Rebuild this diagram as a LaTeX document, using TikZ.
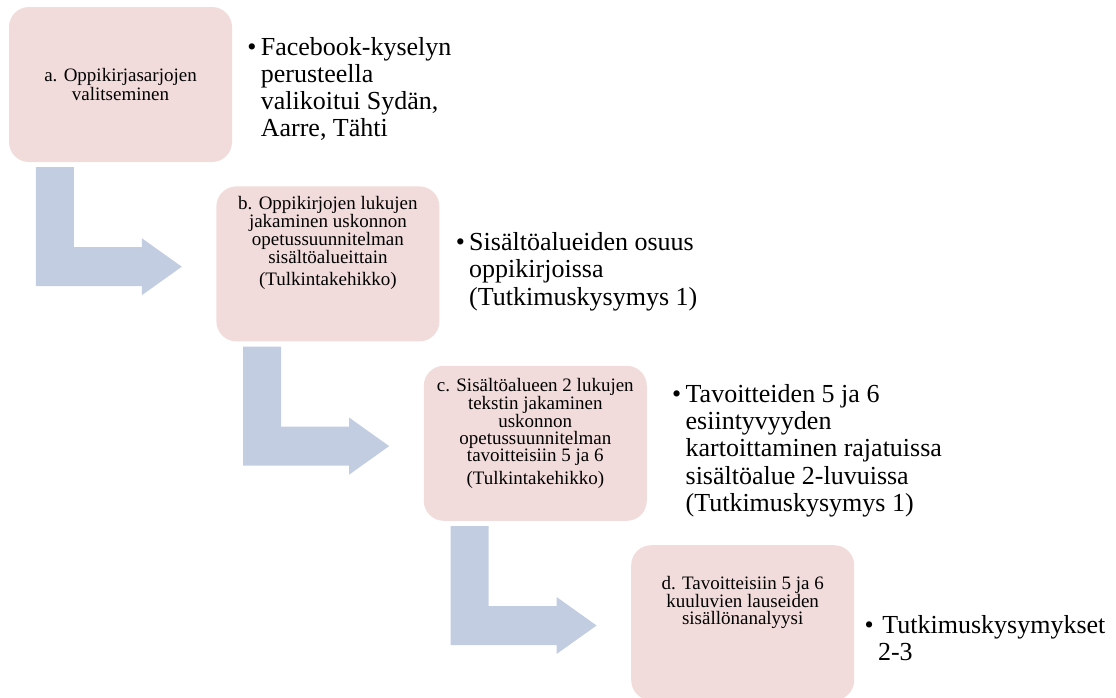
\documentclass[tikz,border=0pt]{standalone}
\usepackage{fontspec}
\setmainfont{Liberation Serif}
\usetikzlibrary{positioning}
\definecolor{vaihepuna}{HTML}{F2DCDB}
\definecolor{nuolisini}{HTML}{C3CDE2}
\tikzset{
    vaihe/.style       = {fill=vaihepuna, rounded corners=20pt, minimum width=223pt,
                          minimum height=155pt, inner sep=0pt},
    vaiheteksti/.style = {align=center, inner sep=0pt, font=\fontsize{19}{17}\selectfont},
    kohta/.style       = {inner sep=0pt, font=\fontsize{26}{27.3}\selectfont},
    nuoli/.style       = {fill=nuolisini}
}
\newcommand{\luettelo}[1]{\textbullet\,\begin{tabular}[t]{@{}l@{}}#1\end{tabular}}

\begin{document}
\begin{tikzpicture}[x=1pt, y=-1pt]
    \useasboundingbox (0,0) rectangle (1116,697);

    % vaiheet
    \node[vaihe] (a) at (120.5,84.5) {};
    \node[vaihe, below right=24pt and -16pt of a] (b) {};
    \node[vaihe, below right=24pt and -16pt of b] (c) {};
    \node[vaihe, below right=24pt and -16pt of c] (d) {};

    \node[vaiheteksti] (a-t) at (a) {a. Oppikirjasarjojen\\valitseminen};
    \node[vaiheteksti, yshift=21pt] (b-t) at (b)
        {b. Oppikirjojen lukujen\\jakaminen uskonnon\\opetussuunnitelman\\sisältöalueittain\\[5pt](Tulkintakehikko)};
    \node[vaiheteksti, yshift=10pt] (c-t) at (c)
        {c. Sisältöalueen 2 lukujen\\tekstin jakaminen\\uskonnon\\opetussuunnitelman\\tavoitteisiin 5 ja 6\\[5pt](Tulkintakehikko)};
    \node[vaiheteksti, yshift=20pt] (d-t) at (d)
        {d. Tavoitteisiin 5 ja 6\\kuuluvien lauseiden\\sisällönanalyysi};

    % nuolet
    \foreach \n in {a,b,c}{
        \begin{scope}[shift={(\n.south west)}]
            \fill[nuoli] (27,5) -- (65,5) -- (65,85) -- (133,85) -- (133,76)
                -- (173,104.5) -- (133,133) -- (133,124) -- (27,124) -- cycle;
        \end{scope}
    }

    % tulokset
    \node[kohta, right=15pt of a, yshift=-6pt] (a-k)
        {\luettelo{Facebook-kyselyn\\perusteella\\valikoitui Sydän,\\Aarre, Tähti}};
    \node[kohta, right=16pt of b, yshift=-8.5pt] (b-k)
        {\luettelo{Sisältöalueiden osuus\\oppikirjoissa\\(Tutkimuskysymys 1)}};
    \node[kohta, right=25pt of c, yshift=-8pt] (c-k)
        {\luettelo{Tavoitteiden 5 ja 6\\esiintyvyyden\\kartoittaminen rajatuissa\\sisältöalue 2-luvuissa\\(Tutkimuskysymys 1)}};
    \node[kohta, right=10pt of d, yshift=-18.5pt] (d-k)
        {\luettelo{\,Tutkimuskysymykset\\2-3}};
\end{tikzpicture}
\end{document}
